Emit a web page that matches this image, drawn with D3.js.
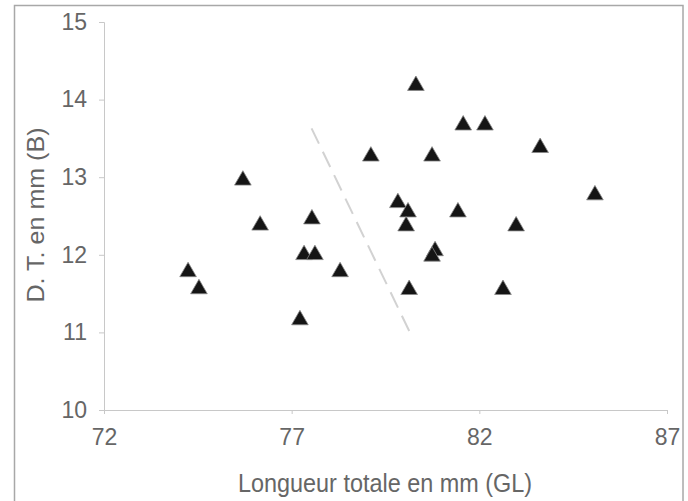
<!DOCTYPE html>
<html>
<head>
<meta charset="utf-8">
<script src="https://cdn.jsdelivr.net/npm/d3@7"></script>
<style>
  html, body { margin: 0; padding: 0; background: #fff; }
  svg { display: block; }
  text { font-family: "Liberation Sans", Arial, sans-serif; }
</style>
</head>
<body>
<svg id="chart" width="688" height="501"></svg>
<script>
// Data: Longueur totale (GL, mm) vs D. T. (B, mm)
const lengthGL = [74.24, 74.53, 75.70, 76.16, 77.22, 77.33, 77.62, 77.54, 78.29, 79.11,
                  79.83, 80.10, 80.05, 80.13, 80.31, 80.74, 80.82, 80.74, 81.43, 81.57,
                  82.15, 82.63, 82.98, 83.62, 85.08];
const widthDT  = [11.78, 11.56, 12.96, 12.38, 11.16, 12.00, 12.00, 12.46, 11.78, 13.27,
                  12.67, 12.55, 12.37, 11.55, 14.18, 13.27, 12.05, 11.98, 12.55, 13.67,
                  13.67, 11.55, 12.37, 13.38, 12.77];
const xTicks = [72, 77, 82, 87];
const yTicks = [10, 11, 12, 13, 14, 15];
const dividerX = [77.53, 80.20];
const dividerY = [13.63, 10.95];
const xTitle = "Longueur totale en mm (GL)";
const yTitle = "D. T. en mm (B)";

const svg = d3.select("#chart");
const x = d3.scaleLinear().domain([72, 87]).range([104, 667]);
const y = d3.scaleLinear().domain([10, 15]).range([410, 22]);

// outer frame
svg.append("rect").attr("x", 14.5).attr("y", 5.5).attr("width", 668.5).attr("height", 500)
  .attr("fill", "none").attr("stroke", "#a8a8a8").attr("stroke-width", 1.5);

const axisColor = "#c8c8c8";
const textColor = "#666";

// y axis
const gy = svg.append("g").attr("transform", `translate(${x(72)},0)`)
  .call(d3.axisLeft(y).tickValues(yTicks).tickSize(5).tickPadding(12).tickFormat(d3.format("d")));
gy.select(".domain").attr("stroke", axisColor);
gy.selectAll(".tick line").attr("stroke", axisColor);
gy.selectAll(".tick text").attr("fill", textColor).attr("font-size", 23)
  .style("font-family", "'Liberation Sans', Arial, sans-serif");

// x axis
const gx = svg.append("g").attr("transform", `translate(0,${y(10)})`)
  .call(d3.axisBottom(x).tickValues(xTicks).tickSize(4).tickPadding(15).tickFormat(d3.format("d")));
gx.select(".domain").attr("stroke", axisColor);
gx.selectAll(".tick line").attr("stroke", axisColor);
gx.selectAll(".tick text").attr("fill", textColor).attr("font-size", 23)
  .style("font-family", "'Liberation Sans', Arial, sans-serif");

// axis titles
svg.append("text").attr("x", 385).attr("y", 492).attr("text-anchor", "middle")
  .attr("fill", textColor).attr("font-size", 25)
  .attr("textLength", 294).attr("lengthAdjust", "spacingAndGlyphs").text(xTitle);
svg.append("text").attr("transform", `translate(44,215) rotate(-90)`)
  .attr("text-anchor", "middle").attr("fill", textColor).attr("font-size", 24)
  .attr("textLength", 175).attr("lengthAdjust", "spacingAndGlyphs").text(yTitle);

// dashed divider line
svg.append("line")
  .attr("x1", x(dividerX[0])).attr("y1", y(dividerY[0]))
  .attr("x2", x(dividerX[1])).attr("y2", y(dividerY[1]))
  .attr("stroke", "#d2d2d2").attr("stroke-width", 2).attr("stroke-dasharray", "17,9");

// points
const tri = d3.symbol().type(d3.symbolTriangle).size(120);
svg.append("g").selectAll("path").data(lengthGL.map((v, i) => [v, widthDT[i]]))
  .join("path")
  .attr("transform", d => `translate(${x(d[0])},${y(d[1])})`)
  .attr("d", tri)
  .attr("fill", "#151515").attr("stroke", "#888").attr("stroke-width", 0.8);
</script>
</body>
</html>
